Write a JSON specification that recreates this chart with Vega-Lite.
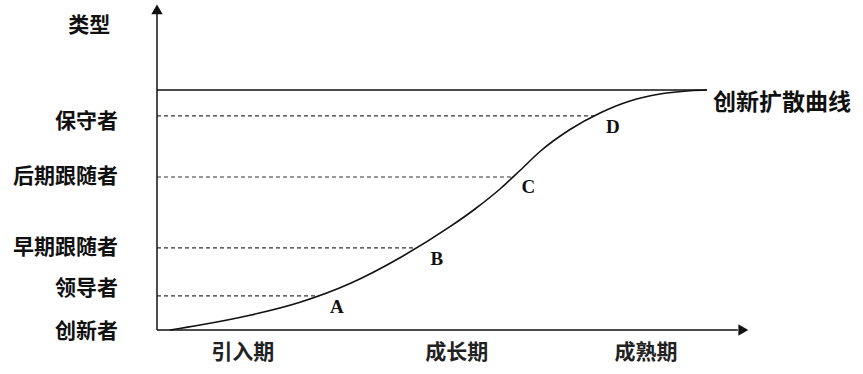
{
  "$schema": "https://vega.github.io/schema/vega-lite/v6.json",
  "width": 863,
  "height": 374,
  "autosize": "none",
  "padding": 0,
  "background": "white",
  "config": {"view": {"stroke": null}},
  "datasets": {
    "curve": [
      {"t": 2.36, "a": 0}, {"t": 7.82, "a": 2.08}, {"t": 16.91, "a": 6.17}, {"t": 26.0, "a": 11.58},
      {"t": 35.09, "a": 19.38}, {"t": 44.18, "a": 30.13}, {"t": 53.27, "a": 43.04}, {"t": 57.82, "a": 50.42},
      {"t": 62.36, "a": 58.75}, {"t": 66.0, "a": 66.46}, {"t": 69.64, "a": 74.38}, {"t": 75.09, "a": 83.54},
      {"t": 80.55, "a": 90.42}, {"t": 86.0, "a": 95.42}, {"t": 91.45, "a": 98.33}, {"t": 96.91, "a": 99.71},
      {"t": 100, "a": 100}
    ],
    "dashes": [
      {"t0": 0, "t1": 79.5, "a": 89.2},
      {"t0": 0, "t1": 64.7, "a": 63.75},
      {"t0": 0, "t1": 47.0, "a": 34.2},
      {"t0": 0, "t1": 29.5, "a": 14.2}
    ],
    "segments": [
      {"t0": 0, "t1": 100, "a0": 100, "a1": 100},
      {"t0": 0, "t1": 0, "a0": 0, "a1": 132.5},
      {"t0": 0, "t1": 105.6, "a0": 0, "a1": 0}
    ],
    "arrows": [
      {"t": 0, "a": 133.6, "shape": "triangle-up"},
      {"t": 106.6, "a": 0, "shape": "triangle-right"}
    ],
    "labels": [
      {"text": "类型", "t": -8.5, "a": 126.7, "kind": "left"},
      {"text": "保守者", "t": -7.1, "a": 86.7, "kind": "left"},
      {"text": "后期跟随者", "t": -7.1, "a": 63.75, "kind": "left"},
      {"text": "早期跟随者", "t": -7.1, "a": 34.2, "kind": "left"},
      {"text": "领导者", "t": -7.1, "a": 17.1, "kind": "left"},
      {"text": "创新者", "t": -7.1, "a": -0.8, "kind": "left"},
      {"text": "引入期", "t": 15.6, "a": -9.6, "kind": "stage"},
      {"text": "成长期", "t": 54.5, "a": -9.6, "kind": "stage"},
      {"text": "成熟期", "t": 88.9, "a": -9.6, "kind": "stage"},
      {"text": "创新扩散曲线", "t": 101.1, "a": 94.6, "kind": "name"},
      {"text": "A", "t": 32.7, "a": 9.6, "kind": "point"},
      {"text": "B", "t": 50.9, "a": 29.6, "kind": "point"},
      {"text": "C", "t": 67.5, "a": 59.6, "kind": "point"},
      {"text": "D", "t": 82.9, "a": 84.6, "kind": "point"}
    ]
  },
  "encoding": {
    "x": {"field": "t", "type": "quantitative", "axis": null,
          "scale": {"domain": [-28.545, 128.364], "nice": false, "zero": false}},
    "y": {"field": "a", "type": "quantitative", "axis": null,
          "scale": {"domain": [-18.333, 137.5], "nice": false, "zero": false}}
  },
  "layer": [
    {
      "data": {"name": "dashes"},
      "mark": {"type": "rule", "color": "#333333", "strokeWidth": 1.1, "strokeDash": [4, 3]},
      "encoding": {
        "x": {"field": "t0", "type": "quantitative"},
        "x2": {"field": "t1"},
        "y": {"field": "a", "type": "quantitative"}
      }
    },
    {
      "data": {"name": "segments"},
      "mark": {"type": "rule", "color": "#111111", "strokeWidth": 1.5},
      "encoding": {
        "x": {"field": "t0", "type": "quantitative"},
        "x2": {"field": "t1"},
        "y": {"field": "a0", "type": "quantitative"},
        "y2": {"field": "a1"}
      }
    },
    {
      "data": {"name": "curve"},
      "mark": {"type": "line", "color": "#111111", "strokeWidth": 1.6, "interpolate": "monotone"},
      "encoding": {}
    },
    {
      "data": {"name": "arrows"},
      "mark": {"type": "point", "filled": true, "color": "#111111", "opacity": 1, "size": 130},
      "encoding": {
        "shape": {"field": "shape", "type": "nominal", "scale": null}
      }
    },
    {
      "data": {"name": "labels"},
      "transform": [{"filter": "datum.kind === 'left'"}],
      "mark": {"type": "text", "align": "right", "baseline": "middle", "font": "Noto Sans CJK SC", "fontWeight": "bold", "fontSize": 21, "color": "#111111"},
      "encoding": {"text": {"field": "text"}}
    },
    {
      "data": {"name": "labels"},
      "transform": [{"filter": "datum.kind === 'stage'"}],
      "mark": {"type": "text", "align": "center", "baseline": "middle", "font": "Noto Sans CJK SC", "fontWeight": "bold", "fontSize": 21, "color": "#222222"},
      "encoding": {"text": {"field": "text"}}
    },
    {
      "data": {"name": "labels"},
      "transform": [{"filter": "datum.kind === 'name'"}],
      "mark": {"type": "text", "align": "left", "baseline": "middle", "font": "Noto Sans CJK SC", "fontWeight": "bold", "fontSize": 23, "color": "#111111"},
      "encoding": {"text": {"field": "text"}}
    },
    {
      "data": {"name": "labels"},
      "transform": [{"filter": "datum.kind === 'point'"}],
      "mark": {"type": "text", "align": "center", "baseline": "middle", "font": "Liberation Serif", "fontWeight": "bold", "fontSize": 19, "color": "#111111"},
      "encoding": {"text": {"field": "text"}}
    }
  ]
}
